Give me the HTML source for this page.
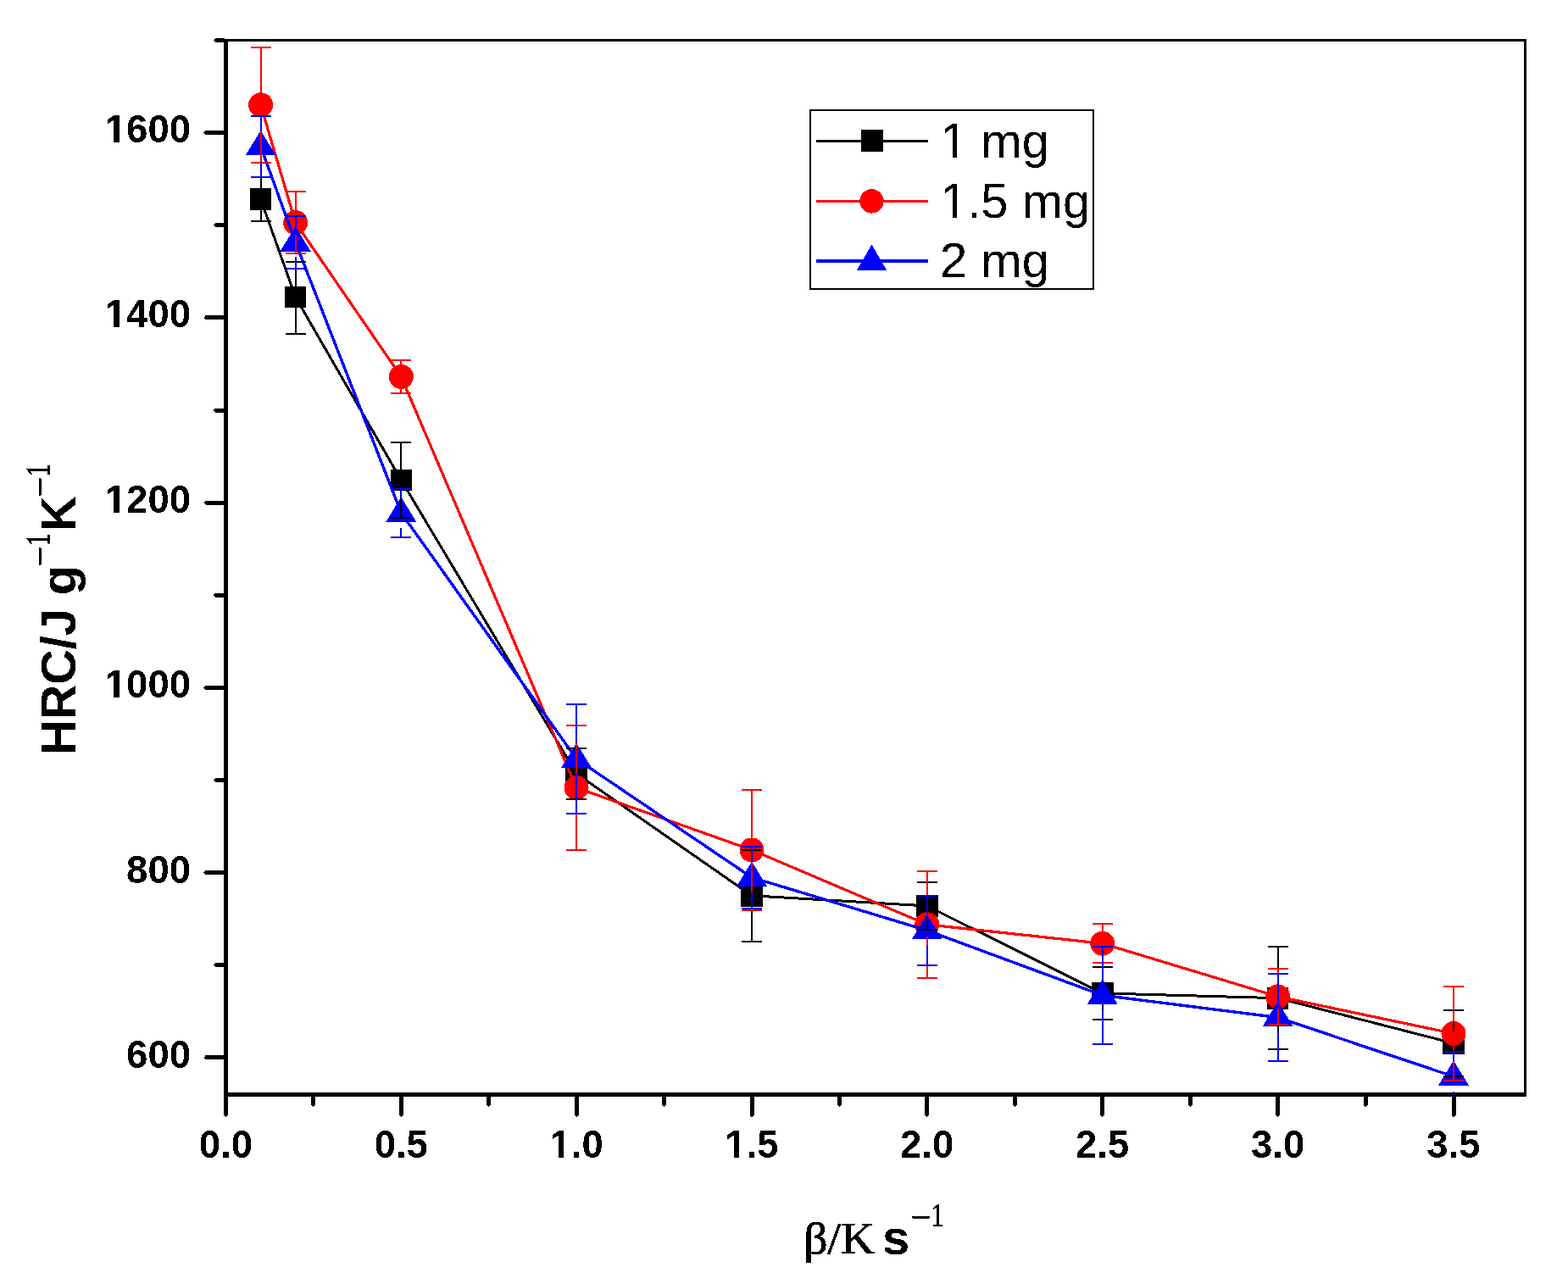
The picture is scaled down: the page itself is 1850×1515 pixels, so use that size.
<!DOCTYPE html><html><head><meta charset="utf-8"><title>HRC vs heating rate</title>
<style>html,body{margin:0;padding:0;background:#fff;}svg{display:block;}</style></head><body>
<svg width="1850" height="1515" viewBox="0 0 1850 1515">
<rect x="0" y="0" width="1850" height="1515" fill="#fff"/>
<defs><clipPath id="plot"><rect x="264" y="46" width="1537" height="1246"/></clipPath><filter id="crisp" filterUnits="userSpaceOnUse" x="0" y="0" width="1850" height="1515" color-interpolation-filters="sRGB"><feComponentTransfer><feFuncA type="discrete" tableValues="0 1"/></feComponentTransfer></filter></defs>
<defs><mask id="nofoot" maskUnits="userSpaceOnUse" x="0" y="0" width="1850" height="1515"><rect x="0" y="0" width="1850" height="1515" fill="#fff"/><g fill="#000"><rect x="125.65" y="818.16" width="8.75" height="5.84"/><rect x="140.64" y="818.16" width="8.18" height="5.84"/><rect x="125.65" y="599.76" width="8.75" height="5.84"/><rect x="140.64" y="599.76" width="8.18" height="5.84"/><rect x="125.65" y="381.36" width="8.75" height="5.84"/><rect x="140.64" y="381.36" width="8.18" height="5.84"/><rect x="125.65" y="162.96" width="8.75" height="5.84"/><rect x="140.64" y="162.96" width="8.18" height="5.84"/><rect x="650.34" y="1360.96" width="8.75" height="5.84"/><rect x="665.34" y="1360.96" width="8.18" height="5.84"/><rect x="857.24" y="1360.96" width="8.75" height="5.84"/><rect x="872.24" y="1360.96" width="8.18" height="5.84"/><rect x="1112.42" y="181.27" width="11.17" height="5.53"/><rect x="1128.71" y="181.27" width="10.71" height="5.53"/><rect x="1112.42" y="252.27" width="11.17" height="5.53"/><rect x="1128.71" y="252.27" width="10.71" height="5.53"/></g></mask></defs>
<g fill="#000" shape-rendering="crispEdges">
<rect x="264" y="46" width="5" height="1248"/>
<rect x="264" y="1289" width="1537" height="5"/>
<rect x="264" y="46" width="1537" height="3"/>
<rect x="1798" y="46" width="3" height="1248"/>
<polygon points="265,1245.4 242.6,1245.4 240.2,1247.9 242.6,1250.4 265,1250.4"/>
<polygon points="265,1136.2 254.2,1136.2 251.8,1138.7 254.2,1141.2 265,1141.2"/>
<polygon points="265,1027.1 242.6,1027.1 240.2,1029.6 242.6,1032.1 265,1032.1"/>
<polygon points="265,918.0 254.2,918.0 251.8,920.5 254.2,923.0 265,923.0"/>
<polygon points="265,808.9 242.6,808.9 240.2,811.4 242.6,813.9 265,813.9"/>
<polygon points="265,699.7 254.2,699.7 251.8,702.2 254.2,704.7 265,704.7"/>
<polygon points="265,590.6 242.6,590.6 240.2,593.1 242.6,595.6 265,595.6"/>
<polygon points="265,481.5 254.2,481.5 251.8,484.0 254.2,486.5 265,486.5"/>
<polygon points="265,372.4 242.6,372.4 240.2,374.9 242.6,377.4 265,377.4"/>
<polygon points="265,263.2 254.2,263.2 251.8,265.7 254.2,268.2 265,268.2"/>
<polygon points="265,154.1 242.6,154.1 240.2,156.6 242.6,159.1 265,159.1"/>
<polygon points="265,45.0 254.2,45.0 251.8,47.5 254.2,50.0 265,50.0"/>
<polygon points="264.0,1293 264.0,1315.6 266.5,1318.0 269.0,1315.6 269.0,1293"/>
<polygon points="367.4,1293 367.4,1303.6 369.9,1306.0 372.4,1303.6 372.4,1293"/>
<polygon points="470.8,1293 470.8,1315.6 473.3,1318.0 475.8,1315.6 475.8,1293"/>
<polygon points="574.3,1293 574.3,1303.6 576.8,1306.0 579.3,1303.6 579.3,1293"/>
<polygon points="677.6,1293 677.6,1315.6 680.1,1318.0 682.6,1315.6 682.6,1293"/>
<polygon points="781.1,1293 781.1,1303.6 783.6,1306.0 786.1,1303.6 786.1,1293"/>
<polygon points="884.5,1293 884.5,1315.6 887.0,1318.0 889.5,1315.6 889.5,1293"/>
<polygon points="988.0,1293 988.0,1303.6 990.5,1306.0 993.0,1303.6 993.0,1293"/>
<polygon points="1091.2,1293 1091.2,1315.6 1093.7,1318.0 1096.2,1315.6 1096.2,1293"/>
<polygon points="1194.8,1293 1194.8,1303.6 1197.3,1306.0 1199.8,1303.6 1199.8,1293"/>
<polygon points="1298.2,1293 1298.2,1315.6 1300.7,1318.0 1303.2,1315.6 1303.2,1293"/>
<polygon points="1401.7,1293 1401.7,1303.6 1404.2,1306.0 1406.7,1303.6 1406.7,1293"/>
<polygon points="1505.1,1293 1505.1,1315.6 1507.6,1318.0 1510.1,1315.6 1510.1,1293"/>
<polygon points="1608.5,1293 1608.5,1303.6 1611.0,1306.0 1613.5,1303.6 1613.5,1293"/>
<polygon points="1712.5,1293 1712.5,1315.6 1715.0,1318.0 1717.5,1315.6 1717.5,1293"/>
</g>
<g filter="url(#crisp)">
<g mask="url(#nofoot)" font-family="'Liberation Sans', Arial, sans-serif" font-weight="bold" font-size="45.5" fill="#000">
<text x="225" y="1260.0" text-anchor="end">600</text>
<text x="225" y="1041.6" text-anchor="end">800</text>
<text x="225" y="823.2" text-anchor="end">1000</text>
<text x="225" y="604.8" text-anchor="end">1200</text>
<text x="225" y="386.4" text-anchor="end">1400</text>
<text x="225" y="168.0" text-anchor="end">1600</text>
<text x="266.5" y="1366" text-anchor="middle">0.0</text>
<text x="473.3" y="1366" text-anchor="middle">0.5</text>
<text x="680.1" y="1366" text-anchor="middle">1.0</text>
<text x="887.0" y="1366" text-anchor="middle">1.5</text>
<text x="1093.7" y="1366" text-anchor="middle">2.0</text>
<text x="1300.7" y="1366" text-anchor="middle">2.5</text>
<text x="1507.6" y="1366" text-anchor="middle">3.0</text>
<text x="1715.0" y="1366" text-anchor="middle">3.5</text>
</g>
<g fill="#000">
<text transform="translate(948.2,1479) scale(1.05,1)" x="0" y="0" font-family="'Liberation Serif', 'Times New Roman', serif" font-size="53" stroke="#000" stroke-width="0.7">β/K</text>
<text x="1041" y="1479.5" font-family="'Liberation Sans', Arial, sans-serif" font-weight="bold" font-size="58">s</text>
<text x="1074.40" y="1450.45" font-family="'Liberation Serif', 'Times New Roman', serif" font-size="42" stroke="#000" stroke-width="0.9">−</text><text transform="translate(1098.85,1446.50) scale(0.74,1)" font-family="'Liberation Serif', 'Times New Roman', serif" font-size="40" stroke="#000" stroke-width="1.1">1</text>
<g transform="rotate(-90)">
<text x="-890.8" y="89" font-family="'Liberation Sans', Arial, sans-serif" font-weight="bold" font-size="57.5">HRC/J g</text>
<text x="-668.20" y="61.45" font-family="'Liberation Serif', 'Times New Roman', serif" font-size="42" stroke="#000" stroke-width="0.9">−</text><text transform="translate(-644.05,57.60) scale(0.74,1)" font-family="'Liberation Serif', 'Times New Roman', serif" font-size="40" stroke="#000" stroke-width="1.1">1</text>
<text x="-626.8" y="89" font-family="'Liberation Sans', Arial, sans-serif" font-weight="bold" font-size="57.5">K</text>
<text x="-586.40" y="61.45" font-family="'Liberation Serif', 'Times New Roman', serif" font-size="42" stroke="#000" stroke-width="0.9">−</text><text transform="translate(-562.15,57.60) scale(0.74,1)" font-family="'Liberation Serif', 'Times New Roman', serif" font-size="40" stroke="#000" stroke-width="1.1">1</text>
</g></g>
</g>
<g clip-path="url(#plot)">
<polyline points="307.6,235.0 348.6,350.5 473.3,566.5 680.1,912.8 887.0,1056.8 1093.7,1068.9 1300.7,1171.9 1507.6,1177.7 1715.0,1231.0" fill="none" stroke="#000000" stroke-width="3" stroke-linejoin="round" shape-rendering="crispEdges"/>
<g shape-rendering="crispEdges"><rect x="294.9" y="222.2" width="25.5" height="25.5" fill="#000000"/><rect x="335.9" y="337.8" width="25.5" height="25.5" fill="#000000"/><rect x="460.6" y="553.8" width="25.5" height="25.5" fill="#000000"/><rect x="667.4" y="900.0" width="25.5" height="25.5" fill="#000000"/><rect x="874.2" y="1044.1" width="25.5" height="25.5" fill="#000000"/><rect x="1081.0" y="1056.2" width="25.5" height="25.5" fill="#000000"/><rect x="1288.0" y="1159.2" width="25.5" height="25.5" fill="#000000"/><rect x="1494.8" y="1165.0" width="25.5" height="25.5" fill="#000000"/><rect x="1702.2" y="1218.2" width="25.5" height="25.5" fill="#000000"/></g>
<polyline points="307.6,123.8 348.6,262.6 473.3,444.5 680.1,929.4 887.0,1002.9 1093.7,1090.8 1300.7,1113.2 1507.6,1175.9 1715.0,1219.5" fill="none" stroke="#ff0000" stroke-width="3.2" stroke-linejoin="round" shape-rendering="crispEdges"/>
<g shape-rendering="crispEdges"><circle cx="307.6" cy="123.8" r="14.5" fill="#ff0000"/><circle cx="348.6" cy="262.6" r="14.5" fill="#ff0000"/><circle cx="473.3" cy="444.5" r="14.5" fill="#ff0000"/><circle cx="680.1" cy="929.4" r="14.5" fill="#ff0000"/><circle cx="887.0" cy="1002.9" r="14.5" fill="#ff0000"/><circle cx="1093.7" cy="1090.8" r="14.5" fill="#ff0000"/><circle cx="1300.7" cy="1113.2" r="14.5" fill="#ff0000"/><circle cx="1507.6" cy="1175.9" r="14.5" fill="#ff0000"/><circle cx="1715.0" cy="1219.5" r="14.5" fill="#ff0000"/></g>
<polyline points="307.6,172.8 348.6,285.9 473.3,605.1 680.1,895.4 887.0,1035.3 1093.7,1097.8 1300.7,1174.3 1507.6,1200.5 1715.0,1270.2" fill="none" stroke="#0000ff" stroke-width="3.4" stroke-linejoin="round" shape-rendering="crispEdges"/>
<g shape-rendering="crispEdges"><polygon points="307.6,154.0 325.6,183.4 289.6,183.4" fill="#0000ff"/><polygon points="348.6,267.1 366.6,296.5 330.6,296.5" fill="#0000ff"/><polygon points="473.3,586.4 491.3,615.8 455.3,615.8" fill="#0000ff"/><polygon points="680.1,876.6 698.1,906.0 662.1,906.0" fill="#0000ff"/><polygon points="887.0,1016.5 905.0,1045.9 869.0,1045.9" fill="#0000ff"/><polygon points="1093.7,1079.0 1111.7,1108.4 1075.7,1108.4" fill="#0000ff"/><polygon points="1300.7,1155.5 1318.7,1184.9 1282.7,1184.9" fill="#0000ff"/><polygon points="1507.6,1181.7 1525.6,1211.0 1489.6,1211.0" fill="#0000ff"/><polygon points="1715.0,1251.4 1733.0,1280.8 1697.0,1280.8" fill="#0000ff"/></g>
<g fill="#000000" shape-rendering="crispEdges"><rect x="306.6" y="209.0" width="2" height="13.2"/><rect x="306.6" y="247.8" width="2" height="13.2"/><rect x="295.6" y="208.0" width="24.0" height="2"/><rect x="295.6" y="260.0" width="24.0" height="2"/><rect x="347.6" y="309.0" width="2" height="28.8"/><rect x="347.6" y="363.2" width="2" height="30.6"/><rect x="336.6" y="308.0" width="24.0" height="2"/><rect x="336.6" y="392.8" width="24.0" height="2"/><rect x="472.3" y="522.0" width="2" height="31.8"/><rect x="472.3" y="579.2" width="2" height="31.8"/><rect x="461.3" y="521.0" width="24.0" height="2"/><rect x="461.3" y="610.0" width="24.0" height="2"/><rect x="679.1" y="882.7" width="2" height="17.3"/><rect x="679.1" y="925.5" width="2" height="17.4"/><rect x="668.1" y="881.7" width="24.0" height="2"/><rect x="668.1" y="941.9" width="24.0" height="2"/><rect x="886.0" y="1002.9" width="2" height="41.2"/><rect x="886.0" y="1069.6" width="2" height="41.2"/><rect x="875.0" y="1001.9" width="24.0" height="2"/><rect x="875.0" y="1109.8" width="24.0" height="2"/><rect x="1092.7" y="1040.9" width="2" height="15.2"/><rect x="1092.7" y="1081.7" width="2" height="15.2"/><rect x="1081.7" y="1039.9" width="24.0" height="2"/><rect x="1081.7" y="1095.9" width="24.0" height="2"/><rect x="1299.7" y="1141.0" width="2" height="18.2"/><rect x="1299.7" y="1184.7" width="2" height="18.1"/><rect x="1288.7" y="1140.0" width="24.0" height="2"/><rect x="1288.7" y="1201.8" width="24.0" height="2"/><rect x="1506.6" y="1117.4" width="2" height="47.5"/><rect x="1506.6" y="1190.5" width="2" height="47.5"/><rect x="1495.6" y="1116.4" width="24.0" height="2"/><rect x="1495.6" y="1237.0" width="24.0" height="2"/><rect x="1714.0" y="1192.0" width="2" height="26.2"/><rect x="1714.0" y="1243.8" width="2" height="26.2"/><rect x="1703.0" y="1191.0" width="24.0" height="2"/><rect x="1703.0" y="1269.0" width="24.0" height="2"/></g>
<g fill="#ff0000" shape-rendering="crispEdges"><rect x="306.6" y="55.8" width="2" height="53.5"/><rect x="306.6" y="138.3" width="2" height="53.6"/><rect x="295.6" y="54.8" width="24.0" height="2"/><rect x="295.6" y="190.9" width="24.0" height="2"/><rect x="347.6" y="226.1" width="2" height="22.0"/><rect x="347.6" y="277.1" width="2" height="22.0"/><rect x="336.6" y="225.1" width="24.0" height="2"/><rect x="336.6" y="298.1" width="24.0" height="2"/><rect x="472.3" y="424.9" width="2" height="5.1"/><rect x="472.3" y="459.0" width="2" height="5.1"/><rect x="461.3" y="423.9" width="24.0" height="2"/><rect x="461.3" y="463.1" width="24.0" height="2"/><rect x="679.1" y="856.0" width="2" height="58.9"/><rect x="679.1" y="943.9" width="2" height="58.9"/><rect x="668.1" y="855.0" width="24.0" height="2"/><rect x="668.1" y="1001.8" width="24.0" height="2"/><rect x="886.0" y="931.9" width="2" height="56.5"/><rect x="886.0" y="1017.4" width="2" height="56.4"/><rect x="875.0" y="930.9" width="24.0" height="2"/><rect x="875.0" y="1072.8" width="24.0" height="2"/><rect x="1092.7" y="1027.9" width="2" height="48.3"/><rect x="1092.7" y="1105.2" width="2" height="48.3"/><rect x="1081.7" y="1026.9" width="24.0" height="2"/><rect x="1081.7" y="1152.6" width="24.0" height="2"/><rect x="1299.7" y="1090.0" width="2" height="8.7"/><rect x="1299.7" y="1127.7" width="2" height="8.6"/><rect x="1288.7" y="1089.0" width="24.0" height="2"/><rect x="1288.7" y="1135.3" width="24.0" height="2"/><rect x="1506.6" y="1142.9" width="2" height="18.5"/><rect x="1506.6" y="1190.4" width="2" height="18.5"/><rect x="1495.6" y="1141.9" width="24.0" height="2"/><rect x="1495.6" y="1207.9" width="24.0" height="2"/><rect x="1714.0" y="1163.9" width="2" height="41.0"/><rect x="1714.0" y="1234.0" width="2" height="41.0"/><rect x="1703.0" y="1162.9" width="24.0" height="2"/><rect x="1703.0" y="1274.0" width="24.0" height="2"/></g>
<g fill="#0000ff" shape-rendering="crispEdges"><rect x="306.6" y="136.8" width="2" height="18.5"/><rect x="306.6" y="190.3" width="2" height="18.6"/><rect x="295.6" y="135.8" width="24.0" height="2"/><rect x="295.6" y="207.9" width="24.0" height="2"/><rect x="347.6" y="254.8" width="2" height="13.6"/><rect x="347.6" y="303.4" width="2" height="13.6"/><rect x="336.6" y="253.8" width="24.0" height="2"/><rect x="336.6" y="316.0" width="24.0" height="2"/><rect x="472.3" y="576.8" width="2" height="10.9"/><rect x="472.3" y="622.6" width="2" height="10.9"/><rect x="461.3" y="575.8" width="24.0" height="2"/><rect x="461.3" y="632.5" width="24.0" height="2"/><rect x="679.1" y="831.0" width="2" height="46.9"/><rect x="679.1" y="912.9" width="2" height="46.9"/><rect x="668.1" y="830.0" width="24.0" height="2"/><rect x="668.1" y="958.8" width="24.0" height="2"/><rect x="886.0" y="998.9" width="2" height="18.9"/><rect x="886.0" y="1052.8" width="2" height="19.0"/><rect x="875.0" y="997.9" width="24.0" height="2"/><rect x="875.0" y="1070.8" width="24.0" height="2"/><rect x="1092.7" y="1056.8" width="2" height="23.5"/><rect x="1092.7" y="1115.3" width="2" height="23.5"/><rect x="1081.7" y="1055.8" width="24.0" height="2"/><rect x="1081.7" y="1137.8" width="24.0" height="2"/><rect x="1299.7" y="1116.9" width="2" height="39.9"/><rect x="1299.7" y="1191.8" width="2" height="40.0"/><rect x="1288.7" y="1115.9" width="24.0" height="2"/><rect x="1288.7" y="1230.8" width="24.0" height="2"/><rect x="1506.6" y="1148.8" width="2" height="34.2"/><rect x="1506.6" y="1218.0" width="2" height="34.1"/><rect x="1495.6" y="1147.8" width="24.0" height="2"/><rect x="1495.6" y="1251.1" width="24.0" height="2"/><rect x="1714.0" y="1241.0" width="2" height="11.7"/><rect x="1714.0" y="1287.7" width="2" height="11.6"/><rect x="1703.0" y="1240.0" width="24.0" height="2"/><rect x="1703.0" y="1298.3" width="24.0" height="2"/></g>
</g>
<rect x="956" y="130" width="334" height="211" fill="none" stroke="#000" stroke-width="2" shape-rendering="crispEdges"/>
<g shape-rendering="crispEdges">
<rect x="963" y="165" width="132" height="3" fill="#000"/>
<rect x="1016" y="153" width="26" height="26" fill="#000"/>
<rect x="963" y="236" width="132" height="3" fill="#ff0000"/>
<rect x="963" y="306" width="132" height="4" fill="#0000ff"/>
</g>
<circle cx="1028.5" cy="237.4" r="14.2" fill="#ff0000" shape-rendering="crispEdges"/>
<polygon points="1028.5,288.5 1046,318.7 1011,318.7" fill="#0000ff" shape-rendering="crispEdges"/>
<g filter="url(#crisp)"><g font-family="'Liberation Sans', Arial, sans-serif" font-size="58" fill="#000" mask="url(#nofoot)">
<text x="1109" y="186">1 mg</text>
<text x="1109" y="257">1.5 mg</text>
<text x="1109" y="327">2 mg</text>
</g></g>
</svg></body></html>
